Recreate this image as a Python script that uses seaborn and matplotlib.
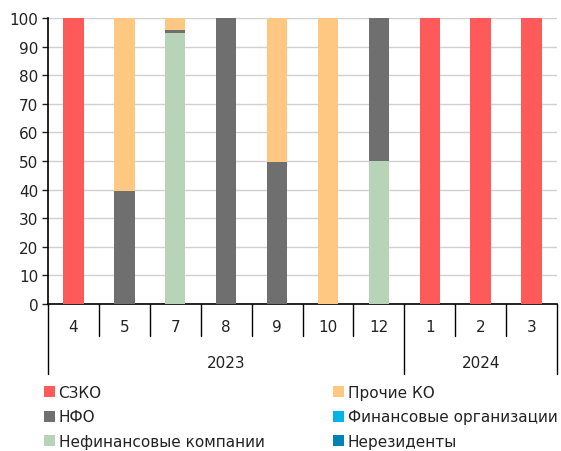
import numpy as np
import pandas as pd
import matplotlib
matplotlib.use("Agg")
import matplotlib.pyplot as plt
import matplotlib.transforms as mtransforms
from matplotlib.patches import Patch
import seaborn as sns

months = ['4', '5', '7', '8', '9', '10', '12', '1', '2', '3']
years = ['2023'] * 7 + ['2024'] * 3
szko = [100, 0, 0, 0, 0, 0, 0, 100, 100, 100]
nonfin = [0, 0, 94.7, 0, 0, 0, 50, 0, 0, 0]
nfo = [0, 39.5, 1.0, 100, 49.5, 0, 50, 0, 0, 0]
prochie = [0, 60.5, 4.3, 0, 50.5, 100, 0, 0, 0, 0]
finorg = [0] * 10
nonres = [0] * 10

names = ['СЗКО', 'Нефинансовые компании', 'НФО', 'Прочие КО', 'Финансовые организации', 'Нерезиденты']
colors = {'СЗКО': '#FF5A5A', 'Прочие КО': '#FFC882', 'НФО': '#6E6F6E',
          'Финансовые организации': '#00B4E6', 'Нефинансовые компании': '#B7D4B8',
          'Нерезиденты': '#0082B4'}

sns.set_theme(style='white')
plt.rcParams['font.family'] = ['DejaVu Sans']

x = [f'{m}_{i}' for i, m in enumerate(months)]
series = [szko, nonfin, nfo, prochie, finorg, nonres]
cum = np.cumsum(np.array(series, dtype=float), axis=0)

fig = plt.figure(figsize=(5.61, 4.52), dpi=100)
ax = fig.add_axes([48 / 561, 1 - 305 / 452, (557 - 48) / 561, (305 - 19) / 452])

for k in range(len(names) - 1, -1, -1):
    df = pd.DataFrame({'x': x, 'y': cum[k]})
    sns.barplot(data=df, x='x', y='y', color=colors[names[k]], width=0.4,
                saturation=1, ax=ax, zorder=3, linewidth=0)

ax.set_ylim(0, 100)
ax.set_xlim(-0.5, len(months) - 0.5)
ax.set_yticks(range(0, 101, 10))
ax.yaxis.grid(True, color='#D0D0D0', linewidth=1, zorder=0)
ax.set_xlabel('')
ax.set_ylabel('')
ax.set_xticks([])
ax.tick_params(axis='y', labelsize=11, colors='#222222', length=4, width=1, left=True, pad=3)
for s in ['top', 'right']:
    ax.spines[s].set_visible(False)
for s in ['left', 'bottom']:
    ax.spines[s].set_color('black')
    ax.spines[s].set_linewidth(1.2)

trans = mtransforms.blended_transform_factory(ax.transData, ax.transAxes)
ah = 305 - 19
short = -32 / ah
long_ = -70 / ah
for i in range(len(months) + 1):
    xb = i - 0.5
    is_group = (i == 0) or (i == len(months)) or (years[i - 1] != years[i] if 0 < i < len(months) else False)
    ax.plot([xb, xb], [0, long_ if is_group else short], color='black', lw=1,
            transform=trans, clip_on=False)
for i, m in enumerate(months):
    ax.text(i, -22 / ah, m, transform=trans, ha='center', va='center', fontsize=11, color='#222222')
uniq = []
for y in years:
    if y not in uniq:
        uniq.append(y)
for y in uniq:
    idx = [i for i, yy in enumerate(years) if yy == y]
    ax.text((idx[0] + idx[-1]) / 2, -59 / ah, y, transform=trans, ha='center', va='center',
            fontsize=11, color='#222222')

col1 = ['СЗКО', 'НФО', 'Нефинансовые компании']
col2 = ['Прочие КО', 'Финансовые организации', 'Нерезиденты']
for col, xpos in [(col1, 44 / 561), (col2, 333 / 561)]:
    handles = [Patch(facecolor=colors[n], edgecolor='none', label=n) for n in col]
    fig.legend(handles=handles, loc='upper left', bbox_to_anchor=(xpos, 1 - 386 / 452),
               frameon=False, fontsize=11, handlelength=0.75, handleheight=0.75,
               handletextpad=0.2, labelspacing=0.62, borderaxespad=0, borderpad=0,
               labelcolor='#222222')

fig.savefig('out.png', dpi=100)
